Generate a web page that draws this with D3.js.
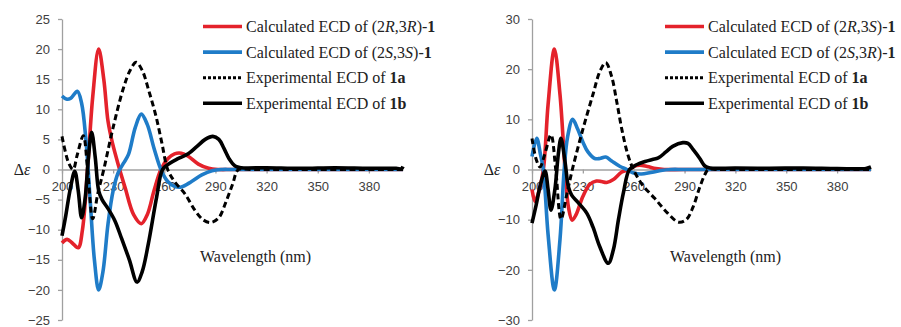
<!DOCTYPE html>
<html>
<head>
<meta charset="utf-8">
<script src="https://cdn.jsdelivr.net/npm/d3@7"></script>
<style>
  body { margin: 0; background: #fff; }
  svg { display: block; }
  .tick text { font-family: 'Liberation Sans', Arial, sans-serif; font-size: 13px; fill: #404040; }
</style>
</head>
<body>
<svg id="chart" width="901" height="327"></svg>
<script>
// wavelength ticks (nm), shared by both panels
const xTicks = [200, 230, 260, 290, 320, 350, 380]
const yTicksLeft = [-25, -20, -15, -10, -5, 0, 5, 10, 15, 20, 25]
const yTicksRight = [-30, -20, -10, 0, 10, 20, 30]

// left panel: [wavelength, delta epsilon]
const calcRR = [[200, -12.2], [203, -11.6], [206, -12.2], [209.5, -13], [212, -10], [215, 0], [218, 12], [221.5, 20],
  [224.5, 15], [227, 8], [229.5, 4.5], [233, 0.8], [237, -3], [242, -7.5], [246.5, -9], [250, -7.5], [254, -3.5],
  [258, 0], [262, 1.8], [266, 2.6], [270, 2.7], [274, 2.2], [280, 0.9], [286, 0.2], [292, 0], [300, 0], [400, 0]]
const calcSS = [[200, 12.2], [202.5, 11.7], [205, 11.8], [209, 13], [211.5, 11], [214, 5], [216.5, -5], [219, -15],
  [221.5, -20], [224, -17], [227, -9], [230, -3.5], [233, -0.5], [236, 1], [239, 2.5], [243, 7], [246.5, 9.2],
  [250, 7.5], [254, 3.5], [258, 0], [262, -2], [266, -2.8], [270, -2.9], [276, -2], [282, -0.9], [288, -0.2],
  [294, 0], [300, 0], [400, 0]]
const exp1aLeft = [[200, 5.5], [204, 1], [206.5, 0], [209, 2.5], [212.5, 5.6], [215, 0], [218, -8.2], [221, -4],
  [224.5, 0], [230, 7], [236, 13.5], [240, 16.5], [243.5, 17.8], [247, 16.5], [251, 13], [255, 9], [258.5, 4.5],
  [262, 0], [266, -2], [272, -4], [278, -6.8], [283, -8.4], [287.5, -8.8], [292, -8], [296, -5.5], [300, -2.5],
  [303.5, 0], [310, 0], [400, 0]]
const exp1bLeft = [[200, -11], [202, -8], [205, -3], [207.5, -0.3], [209.5, -3.5], [211.5, -8], [213.5, -5],
  [215.5, 2], [217.4, 6.2], [219.5, 2], [221.5, -3.5], [223.5, -5], [227, -6.5], [231, -8.5], [235, -11.5],
  [239.5, -15], [244, -18.7], [247, -17], [250.6, -12.4], [255.5, -4.6], [259, 0], [263, 1], [268, 1.8],
  [274, 2.6], [279, 3.8], [284, 5], [288.5, 5.5], [292, 5], [295, 3.5], [298, 1.8], [301.5, 0.6], [305, 0.3],
  [320, 0.3], [340, 0.2], [360, 0.3], [380, 0.2], [396, 0.2], [399, 0.1], [400, 0.5]]

// right panel
const calcRS = [[200, -4], [201.8, -6.4], [203.5, -5], [206.7, 0], [209.5, 13], [213.2, 24], [216.5, 15],
  [219.5, 0], [221.5, -7.5], [223.7, -10.1], [226, -9], [230, -5.4], [234, -3], [238, -2.3], [241, -2.4],
  [244, -2.6], [248, -2], [253, -0.5], [257.5, 0], [260, 0.6], [263.5, 0.85], [268, 0.6], [273, 0.2], [278, 0],
  [290, 0], [400, 0]]
const calcSR = [[200, 2.6], [202.8, 6.2], [205, 3], [206.7, 0], [209.5, -13], [213.2, -24], [216.5, -14], [219, 0],
  [221, 6.5], [224, 10], [227, 8], [230, 5.5], [233, 3.5], [237, 2.2], [240, 2.2], [243.5, 2.5], [247, 1.7],
  [252, 0.6], [256, 0], [260, -0.7], [264.5, -0.9], [270, -0.6], [276, -0.2], [282, 0], [290, 0], [400, 0]]
const exp1aRight = [[200, 6.2], [202.5, 2], [204.7, 0.5], [207.5, 3], [211.2, 6.9], [214, 0], [217.1, -9.9],
  [220.5, -5], [223.8, 0], [230, 8], [236, 15], [240, 19.5], [243.5, 21.3], [247, 18.5], [250, 13.5], [253, 8],
  [256.5, 3], [259.8, 0], [265, -3], [272.5, -5.8], [280, -8.7], [286.5, -10.5], [291, -10], [295, -7.5],
  [299, -3.5], [302, -1], [304, 0], [310, 0], [400, 0]]
const exp1bRight = [[200, -10.7], [202.5, -7], [205, -3], [207.7, -0.3], [209.5, -4], [211.2, -8.1], [213.5, -4],
  [215.5, 3], [217.1, 6.2], [219.5, 1.5], [221.5, -3.5], [223.4, -5.1], [227, -6.5], [232.3, -8.7], [236, -11.5],
  [240, -15.4], [245, -18.7], [248, -16], [251, -10], [254, -4.5], [257.5, 0], [262, 1], [266.7, 1.6], [271, 2],
  [274.5, 2.3], [279, 3.5], [283, 4.6], [289, 5.35], [292, 5.2], [295, 4], [299, 2.2], [302, 0.7], [305, 0.3],
  [320, 0.3], [340, 0.25], [360, 0.3], [380, 0.2], [397, 0.2], [400, 0.5]]

const RED = '#e4222b'
const BLUE = '#1f7cc8'
const AXIS = '#a0a0a0'

const svg = d3.select('#chart')

/** label pieces: [text, style] where style is '', 'i' (italic) or 'b' (bold) */
function addRich (sel, parts) {
  parts.forEach(([t, s]) => {
    const ts = sel.append('tspan').text(t)
    if (s === 'i') ts.attr('font-style', 'italic')
    if (s === 'b') ts.attr('font-weight', 'bold')
  })
}

function serifText (g) {
  return g.append('text')
    .attr('font-family', 'Liberation Serif')
    .attr('font-size', 16)
    .attr('fill', '#222')
}

function drawPanel (p) {
  const g = svg.append('g')
  const x = d3.scaleLinear().domain([200, 400]).range([p.left, p.right])
  const y = d3.scaleLinear().domain(p.yDomain).range([320, 19])

  const yAxis = g.append('g').attr('transform', `translate(${p.left},0)`)
    .call(d3.axisLeft(y).tickValues(p.yTicks).tickSize(4).tickSizeOuter(0).tickPadding(8))
  const xAxis = g.append('g').attr('transform', `translate(0,${y(0)})`)
    .call(d3.axisBottom(x).tickValues(xTicks).tickSize(4).tickSizeOuter(0).tickPadding(8))
  ;[yAxis, xAxis].forEach(a => {
    a.select('.domain').attr('stroke', AXIS).attr('stroke-width', 1.3)
    a.selectAll('.tick line').attr('stroke', AXIS).attr('stroke-width', 1.3)
  })

  // delta epsilon label
  const de = serifText(g)
    .attr('x', p.left - 40).attr('y', y(0) + 5).attr('text-anchor', 'middle')
  addRich(de, [['Δ', ''], ['ε', 'i']])

  serifText(g)
    .attr('x', p.left + 138).attr('y', 262)
    .text('Wavelength (nm)')

  const line = d3.line().x(d => x(d[0])).y(d => y(d[1])).curve(d3.curveCatmullRom.alpha(0.5))

  p.series.forEach(s => {
    g.append('path').datum(s.data)
      .attr('d', line)
      .attr('fill', 'none')
      .attr('stroke', s.color)
      .attr('stroke-width', s.dash ? 3 : 3.6)
      .attr('stroke-dasharray', s.dash ? '6,3.5' : null)
      .attr('stroke-linejoin', 'round')
  })

  // legend
  p.series.forEach((s, i) => {
    const cy = 26.5 + i * 25.6
    g.append('line')
      .attr('x1', p.legendX).attr('x2', p.legendX + 39)
      .attr('y1', cy).attr('y2', cy)
      .attr('stroke', s.color)
      .attr('stroke-width', s.dash ? 3 : 3.6)
      .attr('stroke-dasharray', s.dash ? '3,2' : null)
    const t = serifText(g)
      .attr('x', p.legendX + 43).attr('y', cy + 5.5)
    addRich(t, s.label)
  })
}

drawPanel({
  left: 62,
  right: 403,
  yDomain: [-25, 25],
  yTicks: yTicksLeft,
  legendX: 203,
  series: [
    { data: calcRR, color: RED, label: [['Calculated ECD of (2', ''], ['R', 'i'], [',3', ''], ['R', 'i'], [')-', ''], ['1', 'b']] },
    { data: calcSS, color: BLUE, label: [['Calculated ECD of (2', ''], ['S', 'i'], [',3', ''], ['S', 'i'], [')-', ''], ['1', 'b']] },
    { data: exp1aLeft, color: '#000', dash: true, label: [['Experimental ECD of ', ''], ['1a', 'b']] },
    { data: exp1bLeft, color: '#000', label: [['Experimental ECD of ', ''], ['1b', 'b']] }
  ]
})

drawPanel({
  left: 532,
  right: 871,
  yDomain: [-30, 30],
  yTicks: yTicksRight,
  legendX: 665,
  series: [
    { data: calcRS, color: RED, label: [['Calculated ECD of (2', ''], ['R', 'i'], [',3', ''], ['S', 'i'], [')-', ''], ['1', 'b']] },
    { data: calcSR, color: BLUE, label: [['Calculated ECD of (2', ''], ['S', 'i'], [',3', ''], ['R', 'i'], [')-', ''], ['1', 'b']] },
    { data: exp1aRight, color: '#000', dash: true, label: [['Experimental ECD of ', ''], ['1a', 'b']] },
    { data: exp1bRight, color: '#000', label: [['Experimental ECD of ', ''], ['1b', 'b']] }
  ]
})
</script>
</body>
</html>
